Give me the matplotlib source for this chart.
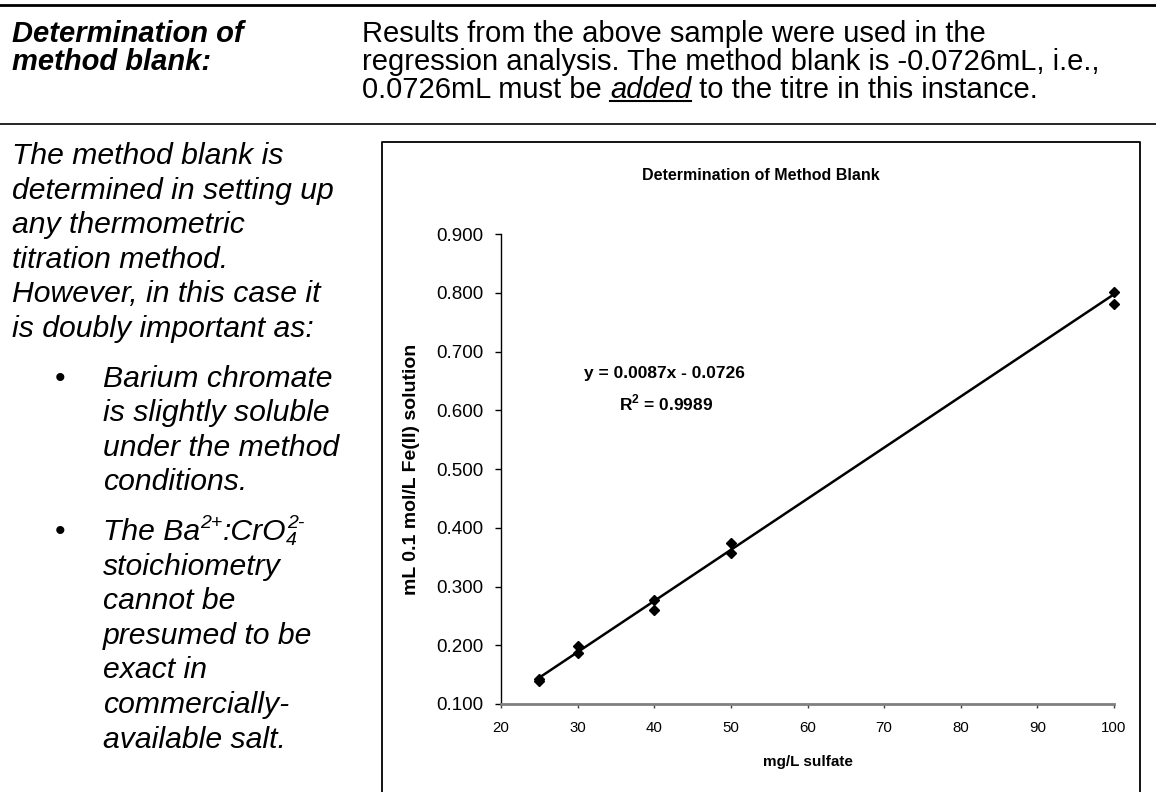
import matplotlib
matplotlib.use("Agg")
import matplotlib.pyplot as plt
from matplotlib.lines import Line2D
from matplotlib.ticker import FormatStrFormatter

# Calibration data (mg/L sulfate vs mL titrant)
sulfate = [25, 25, 30, 30, 40, 40, 50, 50, 100, 100]
titre = [0.140, 0.143, 0.187, 0.198, 0.260, 0.277, 0.357, 0.374, 0.781, 0.802]

# Trendline as reported on the chart
slope = 0.0087
intercept = -0.0726
r_squared = 0.9989

x_ticks = [20, 30, 40, 50, 60, 70, 80, 90, 100]
y_ticks = [0.1, 0.2, 0.3, 0.4, 0.5, 0.6, 0.7, 0.8, 0.9]

header_left = ["Determination of", "method blank:"]
header_right = ["Results from the above sample were used in the",
                "regression analysis. The method blank is -0.0726mL, i.e.,"]
intro_lines = ["The method blank is", "determined in setting up",
               "any thermometric", "titration method.",
               "However, in this case it", "is doubly important as:"]
bullet_1 = ["Barium chromate", "is slightly soluble", "under the method", "conditions."]
bullet_2 = ["stoichiometry", "cannot be", "presumed to be", "exact in",
            "commercially-", "available salt."]

plt.rcParams["font.family"] = ["Liberation Sans", "DejaVu Sans"]
plt.rcParams["mathtext.fontset"] = "custom"
plt.rcParams["mathtext.rm"] = "Liberation Sans:bold"
plt.rcParams["mathtext.bf"] = "Liberation Sans:bold"

W, H = 1156, 792
fig = plt.figure(figsize=(W / 100, H / 100), dpi=100)


def fx(px):
    return px / W


def fy(py):
    return 1 - py / H


HEAD = 21
BODY = 21.7
SUP = 14

# page rules
fig.add_artist(Line2D([0, 1], [fy(5), fy(5)], color="black", lw=2, transform=fig.transFigure))
fig.add_artist(Line2D([0, 1], [fy(124), fy(124)], color="black", lw=1.2, transform=fig.transFigure))

# header row
for i, s in enumerate(header_left):
    fig.text(fx(12), fy(42 + i * 28), s, fontsize=HEAD, weight="bold", style="italic", va="baseline")
for i, s in enumerate(header_right):
    fig.text(fx(362), fy(42 + i * 28), s, fontsize=HEAD, va="baseline")

fig.canvas.draw()
r = fig.canvas.get_renderer()

# third header line with underlined "added"
yb = fy(42 + 2 * 28)
t1 = fig.text(fx(362), yb, "0.0726mL must be ", fontsize=HEAD, va="baseline")
bb1 = t1.get_window_extent(r)
t2 = fig.text(bb1.x1 / W, yb, "added", fontsize=HEAD, style="italic", va="baseline")
bb2 = t2.get_window_extent(r)
fig.text(bb2.x1 / W, yb, " to the titre in this instance.", fontsize=HEAD, va="baseline")
fig.add_artist(Line2D([bb2.x0 / W, bb2.x1 / W], [yb - 3 / H, yb - 3 / H], color="black",
                      lw=1.5, transform=fig.transFigure))

# left column text
step = 34.6
y = 155
for s in intro_lines:
    fig.text(fx(12), fy(y + 9), s, fontsize=BODY, style="italic", va="baseline")
    y += step
y += 15
fig.text(fx(55), fy(y + 9), "\u2022", fontsize=BODY, va="baseline")
for s in bullet_1:
    fig.text(fx(103), fy(y + 9), s, fontsize=BODY, style="italic", va="baseline")
    y += step
y += 15
fig.text(fx(55), fy(y + 9), "\u2022", fontsize=BODY, va="baseline")

# "The Ba2+:CrO4 2-" with raised / lowered pieces
base = y + 9
xp = 103
for text, size, dy in [("The Ba", BODY, 0), ("2+", SUP, 12), (":CrO", BODY, 0)]:
    t = fig.text(fx(xp), fy(base - dy), text, fontsize=size, style="italic", va="baseline")
    xp = t.get_window_extent(r).x1
t = fig.text(fx(xp), fy(base + 5), "4", fontsize=SUP, style="italic", va="baseline")
fig.text(fx(xp + 1), fy(base - 12), "2-", fontsize=SUP, style="italic", va="baseline")
y += step
for s in bullet_2:
    fig.text(fx(103), fy(y + 9), s, fontsize=BODY, style="italic", va="baseline")
    y += step

# chart frame
fig.add_artist(Line2D([fx(382), fx(382), fx(1140), fx(1140)], [fy(800), fy(142), fy(142), fy(800)],
                      color="black", lw=1.3, transform=fig.transFigure))

ax = fig.add_axes([fx(501), fy(704), (1114 - 501) / W, (704 - 234) / H])
ax.plot(sulfate, titre, linestyle="none", marker="D", markersize=5.5, color="black", clip_on=False)
xs = [min(sulfate), max(sulfate)]
ax.plot(xs, [slope * v + intercept for v in xs], color="black", lw=1.8, clip_on=False)

ax.set_xlim(20, 100)
ax.set_ylim(0.1, 0.9)
ax.set_xticks(x_ticks)
ax.set_yticks(y_ticks)
ax.yaxis.set_major_formatter(FormatStrFormatter("%.3f"))
ax.spines["top"].set_visible(False)
ax.spines["right"].set_visible(False)
ax.spines["left"].set_linewidth(1)
ax.spines["bottom"].set_color("#808080")
ax.spines["bottom"].set_linewidth(2)
ax.tick_params(axis="y", direction="out", length=4.5, width=1, pad=8, labelsize=13.5)
ax.tick_params(axis="x", direction="out", length=3, width=1, color="#404040", pad=9, labelsize=10.8)

ax.set_ylabel("mL 0.1 mol/L Fe(II) solution", fontsize=14, weight="bold")
ax.yaxis.set_label_coords((411 - 501) / 613, 0.5)
ax.yaxis.label.set_va("center")
ax.set_xlabel("mg/L sulfate", fontsize=11, weight="bold")
ax.xaxis.set_label_coords(0.5, (704 - 762) / 470)
ax.xaxis.label.set_va("center")

fig.text(fx(761), fy(175), "Determination of Method Blank", fontsize=11.5, weight="bold",
         ha="center", va="center")
fig.text(fx(664), fy(373), f"y = {slope}x - {abs(intercept)}", fontsize=12.5, weight="bold",
         ha="center", va="center")
fig.text(fx(666), fy(403), r"R$^{\mathbf{2}}$ = " + f"{r_squared}", fontsize=12.5, weight="bold",
         ha="center", va="center")

fig.savefig("out.png", dpi=100)
